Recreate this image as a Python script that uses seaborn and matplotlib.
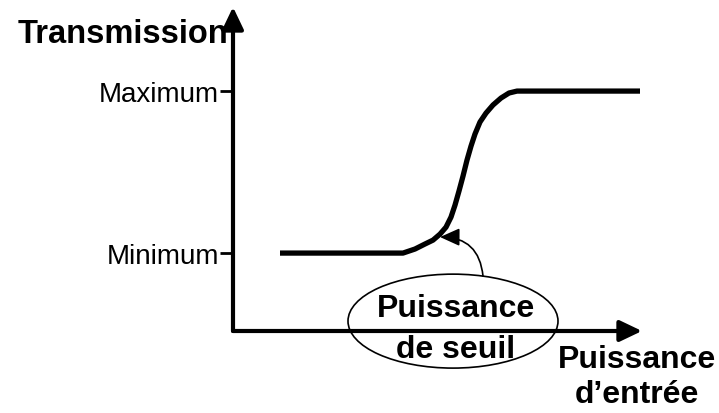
import matplotlib
matplotlib.use("Agg")
import matplotlib.pyplot as plt
import seaborn as sns
import pandas as pd
from matplotlib.patches import Ellipse

sns.set_theme(style="white")
plt.rcParams['font.family'] = ['Liberation Sans', 'DejaVu Sans']
plt.rcParams['text.color'] = 'black'
plt.rcParams['ytick.color'] = 'black'
plt.rcParams['ytick.labelcolor'] = 'black'

# Data (arbitrary units: transmission Minimum=0, Maximum=1)
puissance = [0.47, 1.70, 1.82, 1.92, 2.00, 2.07, 2.13, 2.18, 2.22, 2.26, 2.30,
             2.34, 2.38, 2.42, 2.47, 2.53, 2.60, 2.68, 2.76, 2.84, 4.07]
transmission = [0.0, 0.0, 0.025, 0.056, 0.080, 0.117, 0.160, 0.222, 0.296, 0.383,
                0.475, 0.574, 0.660, 0.735, 0.809, 0.864, 0.914, 0.957, 0.988, 1.0, 1.0]
tick_values = [0, 1]
tick_labels = ["Minimum", "Maximum"]
seuil_x, seuil_y = 2.07, 0.099

df = pd.DataFrame({"P": puissance, "T": transmission})

fig = plt.figure(figsize=(7.19, 4.14), dpi=100)
ax = fig.add_axes([233/719, (414-332)/414, (642-233)/719, (332-8)/414])
ax.set_xlim(0, 4.09)
ax.set_ylim(-0.481, 1.519)
ax.patch.set_alpha(0)
for s in ax.spines.values():
    s.set_visible(False)

sns.lineplot(data=df, x="P", y="T", sort=False, estimator=None, color="black",
             lw=3.8, ax=ax, solid_joinstyle="round", solid_capstyle="butt")

ax.set_xlabel("")
ax.set_ylabel("")
ax.set_xticks([])
ax.set_yticks(tick_values)
ax.set_yticklabels(tick_labels, fontsize=20, color="black")
ax.tick_params(axis="y", direction="out", length=9.4, width=2, pad=0.8,
               color="black", labelcolor="black", left=True)

# axes with arrows
arrow_kw = dict(arrowstyle="-|>,head_length=0.9,head_width=0.43", color="black",
                lw=3, mutation_scale=15, shrinkA=0, shrinkB=0)
ax.annotate("", xy=(0, 1), xytext=(0, 0), xycoords="axes fraction",
            textcoords="axes fraction", arrowprops=arrow_kw, annotation_clip=False)
ax.annotate("", xy=(1, 0), xytext=(0, 0), xycoords="axes fraction",
            textcoords="axes fraction", arrowprops=arrow_kw, annotation_clip=False)

# labels
ax.text(-0.05, 1.302, "Transmission", ha="right", va="baseline", fontsize=23.5,
        fontweight="bold", color="black", clip_on=False)
ax.text(4.04, -0.704, "Puissance", ha="center", va="baseline", fontsize=23,
        fontweight="bold", color="black", clip_on=False)
ax.text(4.04, -0.920, "d\u2019entrée", ha="center", va="baseline", fontsize=23,
        fontweight="bold", color="black", clip_on=False)

# threshold ellipse and annotation
ell = Ellipse((2.20, -0.42), 2.10, 0.58, fill=False, edgecolor="black", lw=1.2, clip_on=False)
ax.add_patch(ell)
ax.text(2.23, -0.389, "Puissance", ha="center", va="baseline", fontsize=23,
        fontweight="bold", color="black", clip_on=False)
ax.text(2.23, -0.642, "de seuil", ha="center", va="baseline", fontsize=23,
        fontweight="bold", color="black", clip_on=False)
ax.annotate("", xy=(seuil_x, seuil_y), xytext=(2.50, -0.142),
            arrowprops=dict(arrowstyle="-|>,head_length=1.0,head_width=0.45", color="black",
                            lw=1.2, mutation_scale=12, shrinkA=0, shrinkB=0,
                            connectionstyle="arc3,rad=0.45"))

fig.savefig("out.png", dpi=100)
